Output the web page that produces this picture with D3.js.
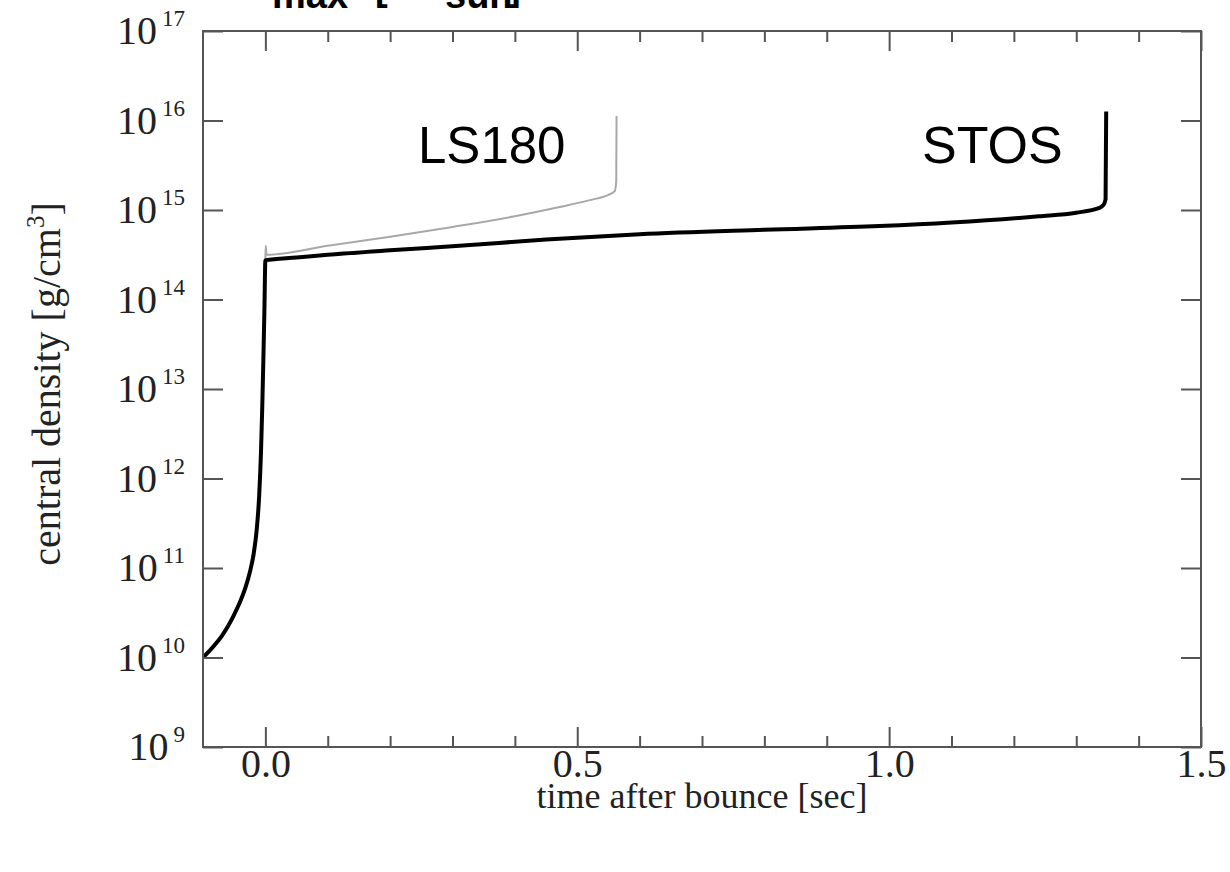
<!DOCTYPE html>
<html>
<head>
<meta charset="utf-8">
<script src="https://cdn.jsdelivr.net/npm/d3@7"></script>
<style>
  html, body { margin: 0; padding: 0; background: #fff; overflow: hidden; }
  svg { display: block; }
</style>
</head>
<body>
<svg id="chart" width="1230" height="872"></svg>
<script>
// ---------- data (time after bounce [s], log10 central density [g/cm^3]) ----------
const collapseT   = [-0.1, -0.09, -0.08, -0.07, -0.06, -0.05, -0.04, -0.032, -0.025, -0.019, -0.014, -0.010, -0.007, -0.005, -0.003, -0.0015, 0.0];
const collapseLog = [10.0, 10.07, 10.15, 10.24, 10.35, 10.48, 10.63, 10.78, 10.95, 11.15, 11.42, 11.8, 12.3, 12.8, 13.4, 13.9, 14.44];

const stosT   = [0.0, 0.05, 0.1, 0.2, 0.311, 0.45, 0.6, 0.8, 0.984, 1.1, 1.24, 1.3, 1.336, 1.344, 1.347, 1.348];
const stosLog = [14.44, 14.47, 14.50, 14.55, 14.60, 14.67, 14.73, 14.78, 14.82, 14.86, 14.93, 14.97, 15.02, 15.06, 15.12, 16.10];

const ls180T   = [0.0, 0.0005, 0.002, 0.1, 0.2, 0.3, 0.4, 0.47, 0.52, 0.55, 0.56, 0.5625, 0.563];
const ls180Log = [14.46, 14.60, 14.50, 14.60, 14.70, 14.81, 14.93, 15.03, 15.11, 15.17, 15.21, 15.32, 16.05];

const xMajorTicks = [0.0, 0.5, 1.0, 1.5];
const xMajorLabels = ["0.0", "0.5", "1.0", "1.5"];
const xMinorTicks = [0.1, 0.2, 0.3, 0.4, 0.6, 0.7, 0.8, 0.9, 1.1, 1.2, 1.3, 1.4];
const yTickExponents = [9, 10, 11, 12, 13, 14, 15, 16, 17];

const seriesNames = ["LS180", "STOS"];

// ---------- layout ----------
const svg = d3.select("#chart");
const L = 203, R = 1201, T = 31, B = 747;
const axisColor = "#555";

const x = d3.scaleLinear().domain([-0.1, 1.5]).range([L, R]);
const y = d3.scaleLog().domain([1e9, 1e17]).range([B, T]);

const toPts = (ts, ls) => ts.map((t, i) => [t, Math.pow(10, ls[i])]);
const line = d3.line().x(d => x(d[0])).y(d => y(d[1])).curve(d3.curveMonotoneX);

// clip
svg.append("defs").append("clipPath").attr("id", "clip")
  .append("rect").attr("x", L).attr("y", T).attr("width", R - L).attr("height", B - T);

const plot = svg.append("g").attr("clip-path", "url(#clip)");

// LS180 (thin gray)
plot.append("path")
  .attr("d", line(toPts(ls180T, ls180Log)))
  .attr("fill", "none").attr("stroke", "#a8a8a8").attr("stroke-width", 2)
  .attr("stroke-linejoin", "round");

// STOS incl. collapse (thick black)
const stosPts = toPts(collapseT, collapseLog).concat(toPts(stosT.slice(1), stosLog.slice(1)));
plot.append("path")
  .attr("d", line(stosPts))
  .attr("fill", "none").attr("stroke", "#000").attr("stroke-width", 4)
  .attr("stroke-linejoin", "round");

// ---------- axes ----------
function styleAxis(g) {
  g.select(".domain").remove();
  g.selectAll(".tick line").attr("stroke", axisColor).attr("stroke-width", 2);
}
// bottom major
svg.append("g").attr("transform", `translate(0,${B})`)
  .call(d3.axisBottom(x).tickValues(xMajorTicks).tickSize(-20).tickPadding(2)
        .tickFormat((d, i) => xMajorLabels[i]))
  .call(styleAxis)
  .call(g => g.selectAll("text").attr("font-family", "Liberation Serif, serif")
                .attr("font-size", 40).attr("fill", "#222").attr("y", 2).attr("dy", "0.71em"));
// bottom minor
svg.append("g").attr("transform", `translate(0,${B})`)
  .call(d3.axisBottom(x).tickValues(xMinorTicks).tickSize(-11).tickFormat(""))
  .call(styleAxis);
// top major/minor
svg.append("g").attr("transform", `translate(0,${T})`)
  .call(d3.axisTop(x).tickValues(xMajorTicks).tickSize(-20).tickFormat(""))
  .call(styleAxis);
svg.append("g").attr("transform", `translate(0,${T})`)
  .call(d3.axisTop(x).tickValues(xMinorTicks).tickSize(-11).tickFormat(""))
  .call(styleAxis);
// left / right
svg.append("g").attr("transform", `translate(${L},0)`)
  .call(d3.axisLeft(y).tickValues(yTickExponents.map(e => Math.pow(10, e))).tickSize(-20).tickFormat(""))
  .call(styleAxis);
svg.append("g").attr("transform", `translate(${R},0)`)
  .call(d3.axisRight(y).tickValues(yTickExponents.map(e => Math.pow(10, e))).tickSize(-20).tickFormat(""))
  .call(styleAxis);

// frame
svg.append("rect").attr("x", L).attr("y", T).attr("width", R - L).attr("height", B - T)
  .attr("fill", "none").attr("stroke", axisColor).attr("stroke-width", 2);

// y tick labels 10^n
const yl = svg.append("g").selectAll("text").data(yTickExponents).join("text")
  .attr("x", 185).attr("y", d => y(Math.pow(10, d)) + 13)
  .attr("text-anchor", "end")
  .attr("font-family", "Liberation Serif, serif").attr("fill", "#222");
yl.append("tspan").attr("font-size", 40).text("10");
yl.append("tspan").attr("font-size", 23).attr("dx", 5).attr("dy", -18).text(d => d);

// axis titles
svg.append("text").attr("x", 702).attr("y", 808).attr("text-anchor", "middle")
  .attr("font-family", "Liberation Serif, serif").attr("font-size", 36).attr("fill", "#222")
  .text("time after bounce [sec]");

const yt = svg.append("text").attr("transform", "translate(60,384) rotate(-90)")
  .attr("text-anchor", "middle")
  .attr("font-family", "Liberation Serif, serif").attr("font-size", 40).attr("fill", "#222");
yt.append("tspan").text("central density [g/cm");
yt.append("tspan").attr("font-size", 25).attr("dy", -16).text("3");
yt.append("tspan").attr("dy", 16).text("]");

// series labels
svg.append("text").attr("x", 418).attr("y", 163)
  .attr("font-family", "Liberation Sans, Arial, sans-serif").attr("font-size", 51).attr("fill", "#000")
  .text(seriesNames[0]);
svg.append("text").attr("x", 922).attr("y", 163)
  .attr("font-family", "Liberation Sans, Arial, sans-serif").attr("font-size", 52).attr("fill", "#000")
  .text(seriesNames[1]);

// clipped title at very top (only bottom part visible)
const topTitle = svg.append("g").attr("font-family", "Liberation Sans, Arial, sans-serif")
  .attr("font-weight", "bold").attr("font-size", 38).attr("fill", "#000");
topTitle.append("text").attr("x", 238).attr("y", -2).text("M");
topTitle.append("text").attr("x", 272).attr("y", 8).text("max");
topTitle.append("text").attr("x", 375).attr("y", 0).text("[");
topTitle.append("text").attr("x", 400).attr("y", -2).text("M");
topTitle.append("text").attr("x", 445).attr("y", 8).text("sun");
topTitle.append("text").attr("x", 508).attr("y", 0).text("]");
</script>
</body>
</html>
